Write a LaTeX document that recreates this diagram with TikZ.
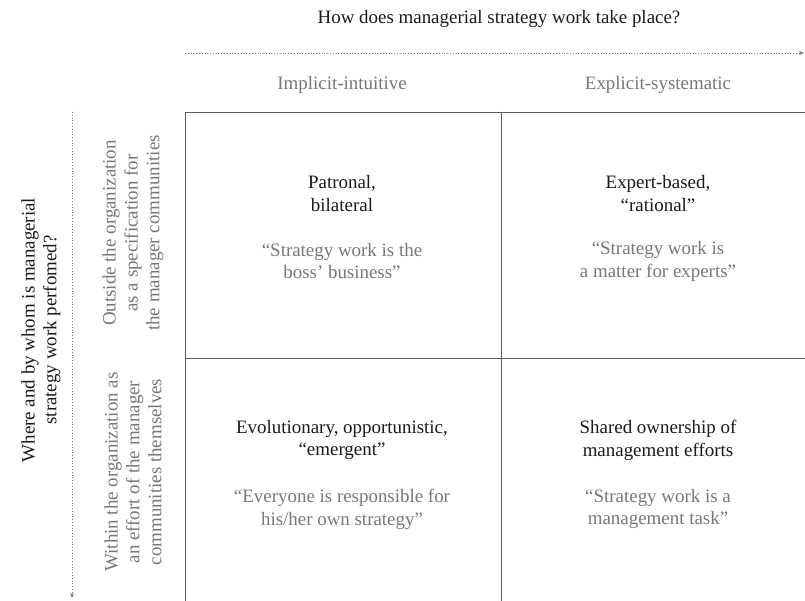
\documentclass[tikz,border=0pt]{standalone}
\usepackage{fontspec}
\setmainfont{Liberation Serif}
\usetikzlibrary{arrows.meta}
\definecolor{cInk}{HTML}{1A1A1A}
\definecolor{cSoft}{HTML}{777777}
\definecolor{cRule}{HTML}{5C5C5C}

\begin{document}
\begin{tikzpicture}[x=1bp,y=-1bp,font=\fontsize{19}{23}\selectfont,
  head/.style={text=cInk,align=center,inner sep=0pt},
  quote/.style={text=cSoft,align=center,inner sep=0pt},
  side/.style={align=center,rotate=90,inner sep=0pt,font=\fontsize{19}{22}\selectfont},
  axis/.style={cSoft,dotted,line width=0.8pt,-{Stealth[length=5pt,width=4pt]}}]
  \useasboundingbox (0,0) rectangle (805,601);
  \def\xa{185}\def\xb{501}\def\ya{112}\def\yb{358}
  % axes
  \node[head] (title) at (499,19) {How does managerial strategy work take place?};
  \coordinate (topL) at (\xa,53);
  \coordinate (topR) at (804,53);
  \draw[axis] (topL) -- (topR);
  \node[side,text=cInk] (sideT) at (41,330) {Where and by whom is managerial\\strategy work perfomed?};
  \coordinate (leftT) at (72,\ya);
  \coordinate (leftB) at (72,598);
  \draw[axis] (leftT) -- (leftB);
  % column and row labels
  \node[quote] (colA) at (342,85) {Implicit-intuitive};
  \node[quote] (colB) at (658,85) {Explicit-systematic};
  \node[side,text=cSoft] (rowA) at (133,233) {Outside the organization\\as a specification for\\the manager communities};
  \node[side,text=cSoft] (rowB) at (133,472) {Within the organization as\\an effort of the manager\\communities themselves};
  % grid
  \draw[cRule,line width=0.9pt] (805,\ya) -- (\xa,\ya) -- (\xa,601);
  \draw[cRule,line width=0.9pt] (\xb,\ya) -- (\xb,601);
  \draw[cRule,line width=0.9pt] (\xa,\yb) -- (805,\yb);
  % cells
  \node[head] (tlH) at (342,193.5) {Patronal,\\bilateral};
  \node[quote] (tlQ) at (342,261) {``Strategy work is the\\boss' business''};
  \node[head] (trH) at (658,193.5) {Expert-based,\\``rational''};
  \node[quote] (trQ) at (658,261) {``Strategy work is\\a matter for experts''};
  \node[head] (blH) at (342,440) {Evolutionary, opportunistic,\\``emergent''};
  \node[quote] (blQ) at (342,509) {``Everyone is responsible for\\his/her own strategy''};
  \node[head] (brH) at (658,440) {Shared ownership of\\management efforts};
  \node[quote] (brQ) at (658,509) {``Strategy work is a\\management task''};
\end{tikzpicture}
\end{document}
